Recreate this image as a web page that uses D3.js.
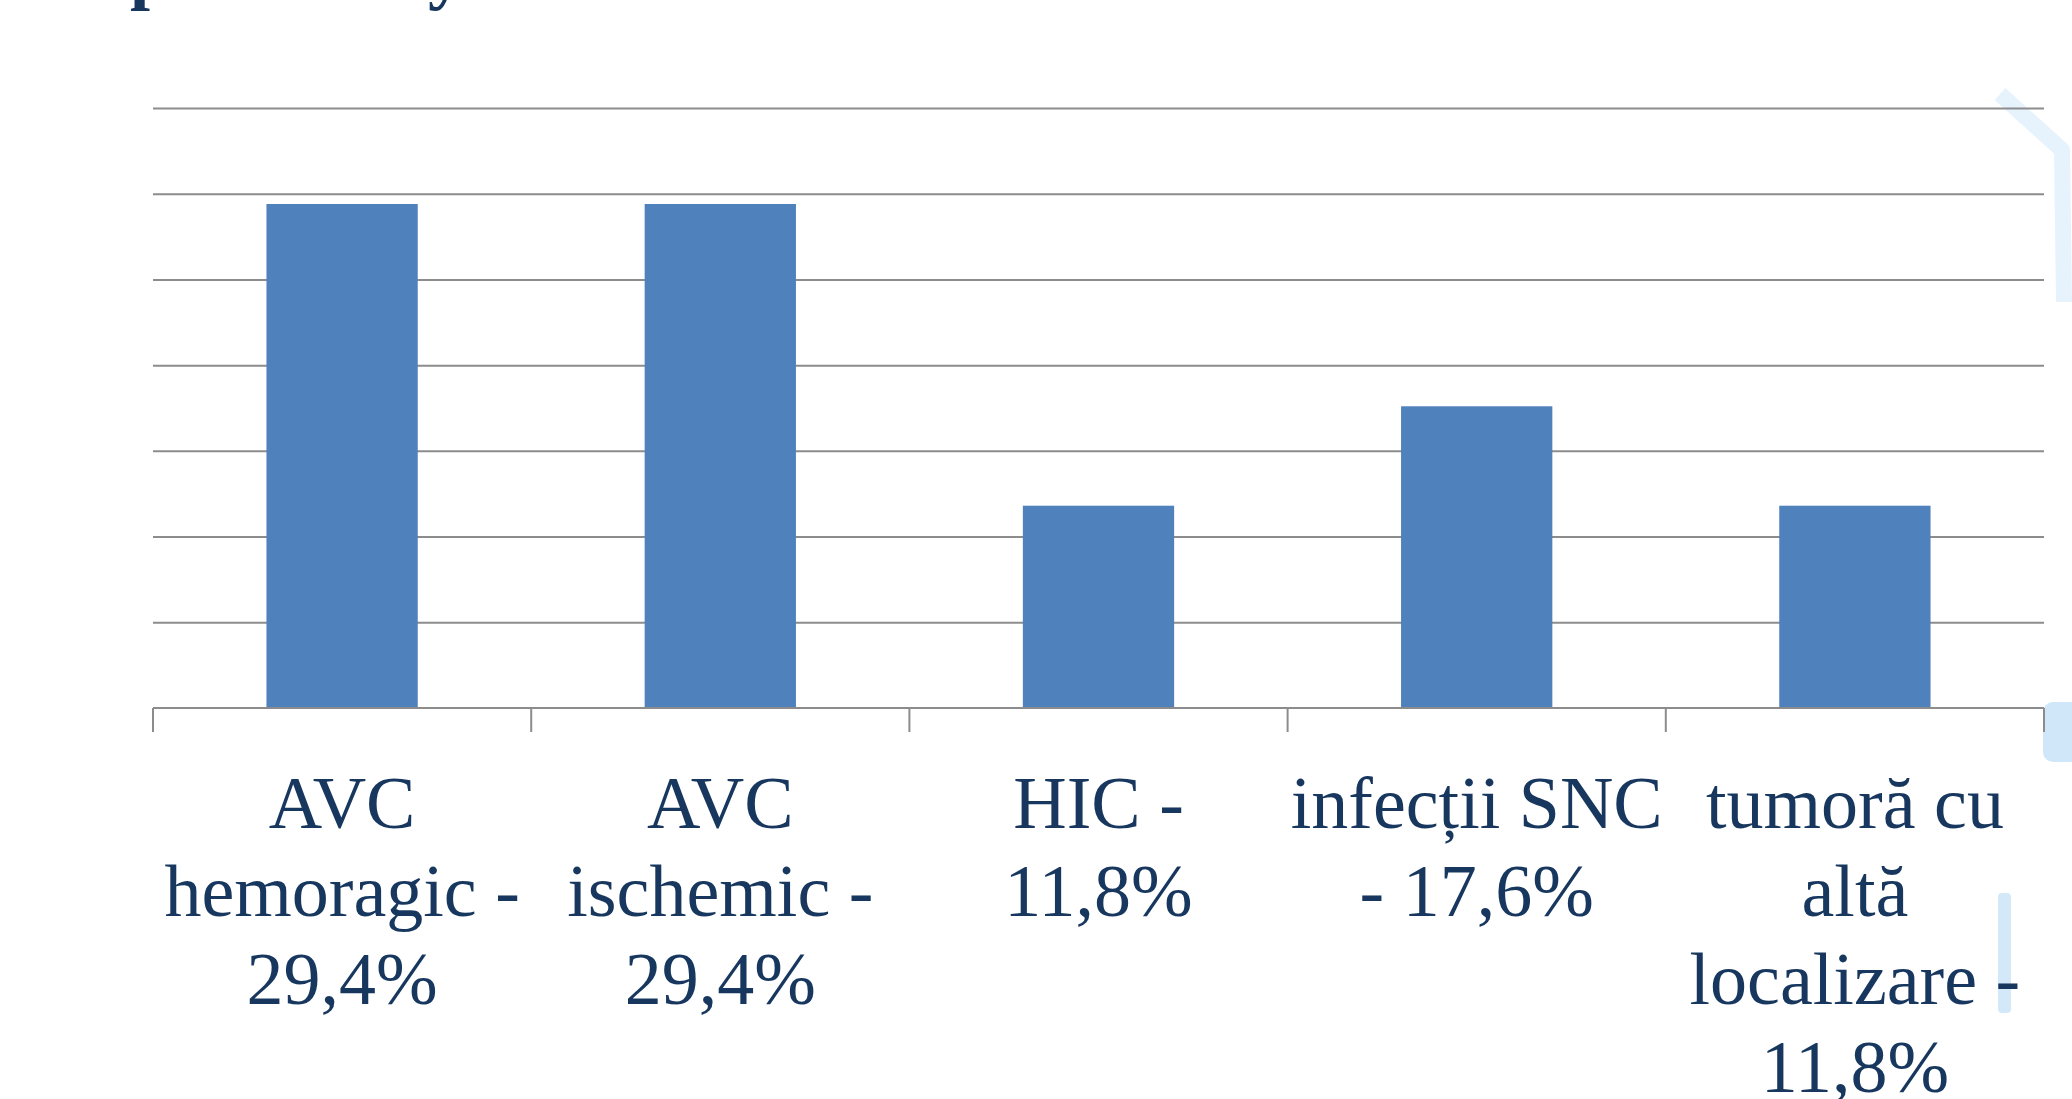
<!DOCTYPE html>
<html>
<head>
<meta charset="utf-8">
<script src="https://cdn.jsdelivr.net/npm/d3@7"></script>
<style>
  body { margin: 0; background: #fff; overflow: hidden; }
  svg { display: block; }
</style>
</head>
<body>
<div id="chart"></div>
<script>
// data
var categories = ["AVC hemoragic", "AVC ischemic", "HIC", "infecții SNC", "tumoră cu altă localizare"];
var values = [29.4, 29.4, 11.8, 17.6, 11.8];
var tickLabels = [
  ["AVC", "hemoragic -", "29,4%"],
  ["AVC", "ischemic -", "29,4%"],
  ["HIC -", "11,8%"],
  ["infecții SNC", "- 17,6%"],
  ["tumoră cu", "altă", "localizare -", "11,8%"]
];
var yTicks = [0, 5, 10, 15, 20, 25, 30, 35];

var width = 2072;
var height = 1099;
var margin = { top: 108, bottom: 391, left: 153, right: 28 };
var innerW = width - margin.left - margin.right;
var innerH = height - margin.top - margin.bottom;

var svg = d3.select('#chart')
            .append('svg')
            .attr('width', width)
            .attr('height', height);

// faint slide decoration on the right edge
var deco = svg.append('g');
deco.append('path')
    .attr('d', 'M2000,94 L2062,150 L2064,302')
    .attr('fill', 'none')
    .attr('stroke', '#e6f3fd')
    .attr('stroke-width', 16)
    .attr('stroke-linejoin', 'round');
deco.append('rect').attr('x', 2043).attr('y', 702).attr('width', 40).attr('height', 60).attr('rx', 10)
    .attr('fill', '#cfe7f9');
deco.append('rect').attr('x', 1998).attr('y', 893).attr('width', 13).attr('height', 120).attr('rx', 4)
    .attr('fill', '#d3e9fa');

// clipped slide title (only descenders visible)
var title = svg.append('g')
               .attr('fill', '#17375E')
               .style('font-family', '"Liberation Serif", serif')
               .style('font-weight', 'bold')
               .style('font-size', '72px');
title.append('text').attr('x', 130).attr('y', -4).text('p');
title.append('text').attr('x', 428).attr('y', -4).text('y');

var chartGroup = svg.append('g')
                    .attr('transform', 'translate(' + margin.left + ',' + margin.top + ')');

var xScale = d3.scaleBand()
               .domain(categories)
               .range([0, innerW])
               .paddingInner(0)
               .paddingOuter(0);

var yScale = d3.scaleLinear()
               .domain([0, 35])
               .range([innerH, 0]);

// horizontal gridlines
var yAxis = d3.axisLeft(yScale)
              .tickValues(yTicks.slice(1))
              .tickSize(-innerW)
              .tickFormat('');

chartGroup.append('g')
          .attr('class', 'grid')
          .call(yAxis)
          .call(function(g) { g.select('.domain').remove(); })
          .selectAll('line')
          .attr('stroke', '#8c8c8c')
          .attr('stroke-width', 2);

// bars, 40% of the category width
var barW = xScale.bandwidth() * 0.4;
chartGroup.selectAll('.bar')
          .data(values)
          .enter()
          .append('rect')
          .attr('class', 'bar')
          .attr('x', function(d, i) { return xScale(categories[i]) + (xScale.bandwidth() - barW) / 2; })
          .attr('y', function(d) { return yScale(d); })
          .attr('width', barW)
          .attr('height', function(d) { return innerH - yScale(d); })
          .attr('fill', '#4F81BD');

// category axis with ticks on the boundaries
var bounds = categories.map(function(c) { return xScale(c); }).concat([innerW]);
var xAxisG = chartGroup.append('g')
                       .attr('class', 'x axis')
                       .attr('transform', 'translate(0,' + innerH + ')');
xAxisG.append('line')
      .attr('x1', 0).attr('x2', innerW)
      .attr('stroke', '#8c8c8c').attr('stroke-width', 2);
xAxisG.selectAll('.tick')
      .data(bounds)
      .enter()
      .append('line')
      .attr('class', 'tick')
      .attr('x1', function(d) { return d; })
      .attr('x2', function(d) { return d; })
      .attr('y1', 0).attr('y2', 24)
      .attr('stroke', '#8c8c8c').attr('stroke-width', 2);

var labels = xAxisG.selectAll('.label')
                   .data(categories)
                   .enter()
                   .append('text')
                   .attr('class', 'label')
                   .attr('text-anchor', 'middle')
                   .attr('fill', '#17375E')
                   .style('font-family', '"Liberation Serif", serif')
                   .style('font-size', '74px')
                   .attr('transform', function(d) { return 'translate(' + (xScale(d) + xScale.bandwidth() / 2) + ',120)'; });

labels.each(function(d, i) {
  var t = d3.select(this);
  tickLabels[i].forEach(function(line, j) {
    t.append('tspan')
     .attr('x', 0)
     .attr('y', j * 88)
     .text(line);
  });
});
</script>
</body>
</html>
